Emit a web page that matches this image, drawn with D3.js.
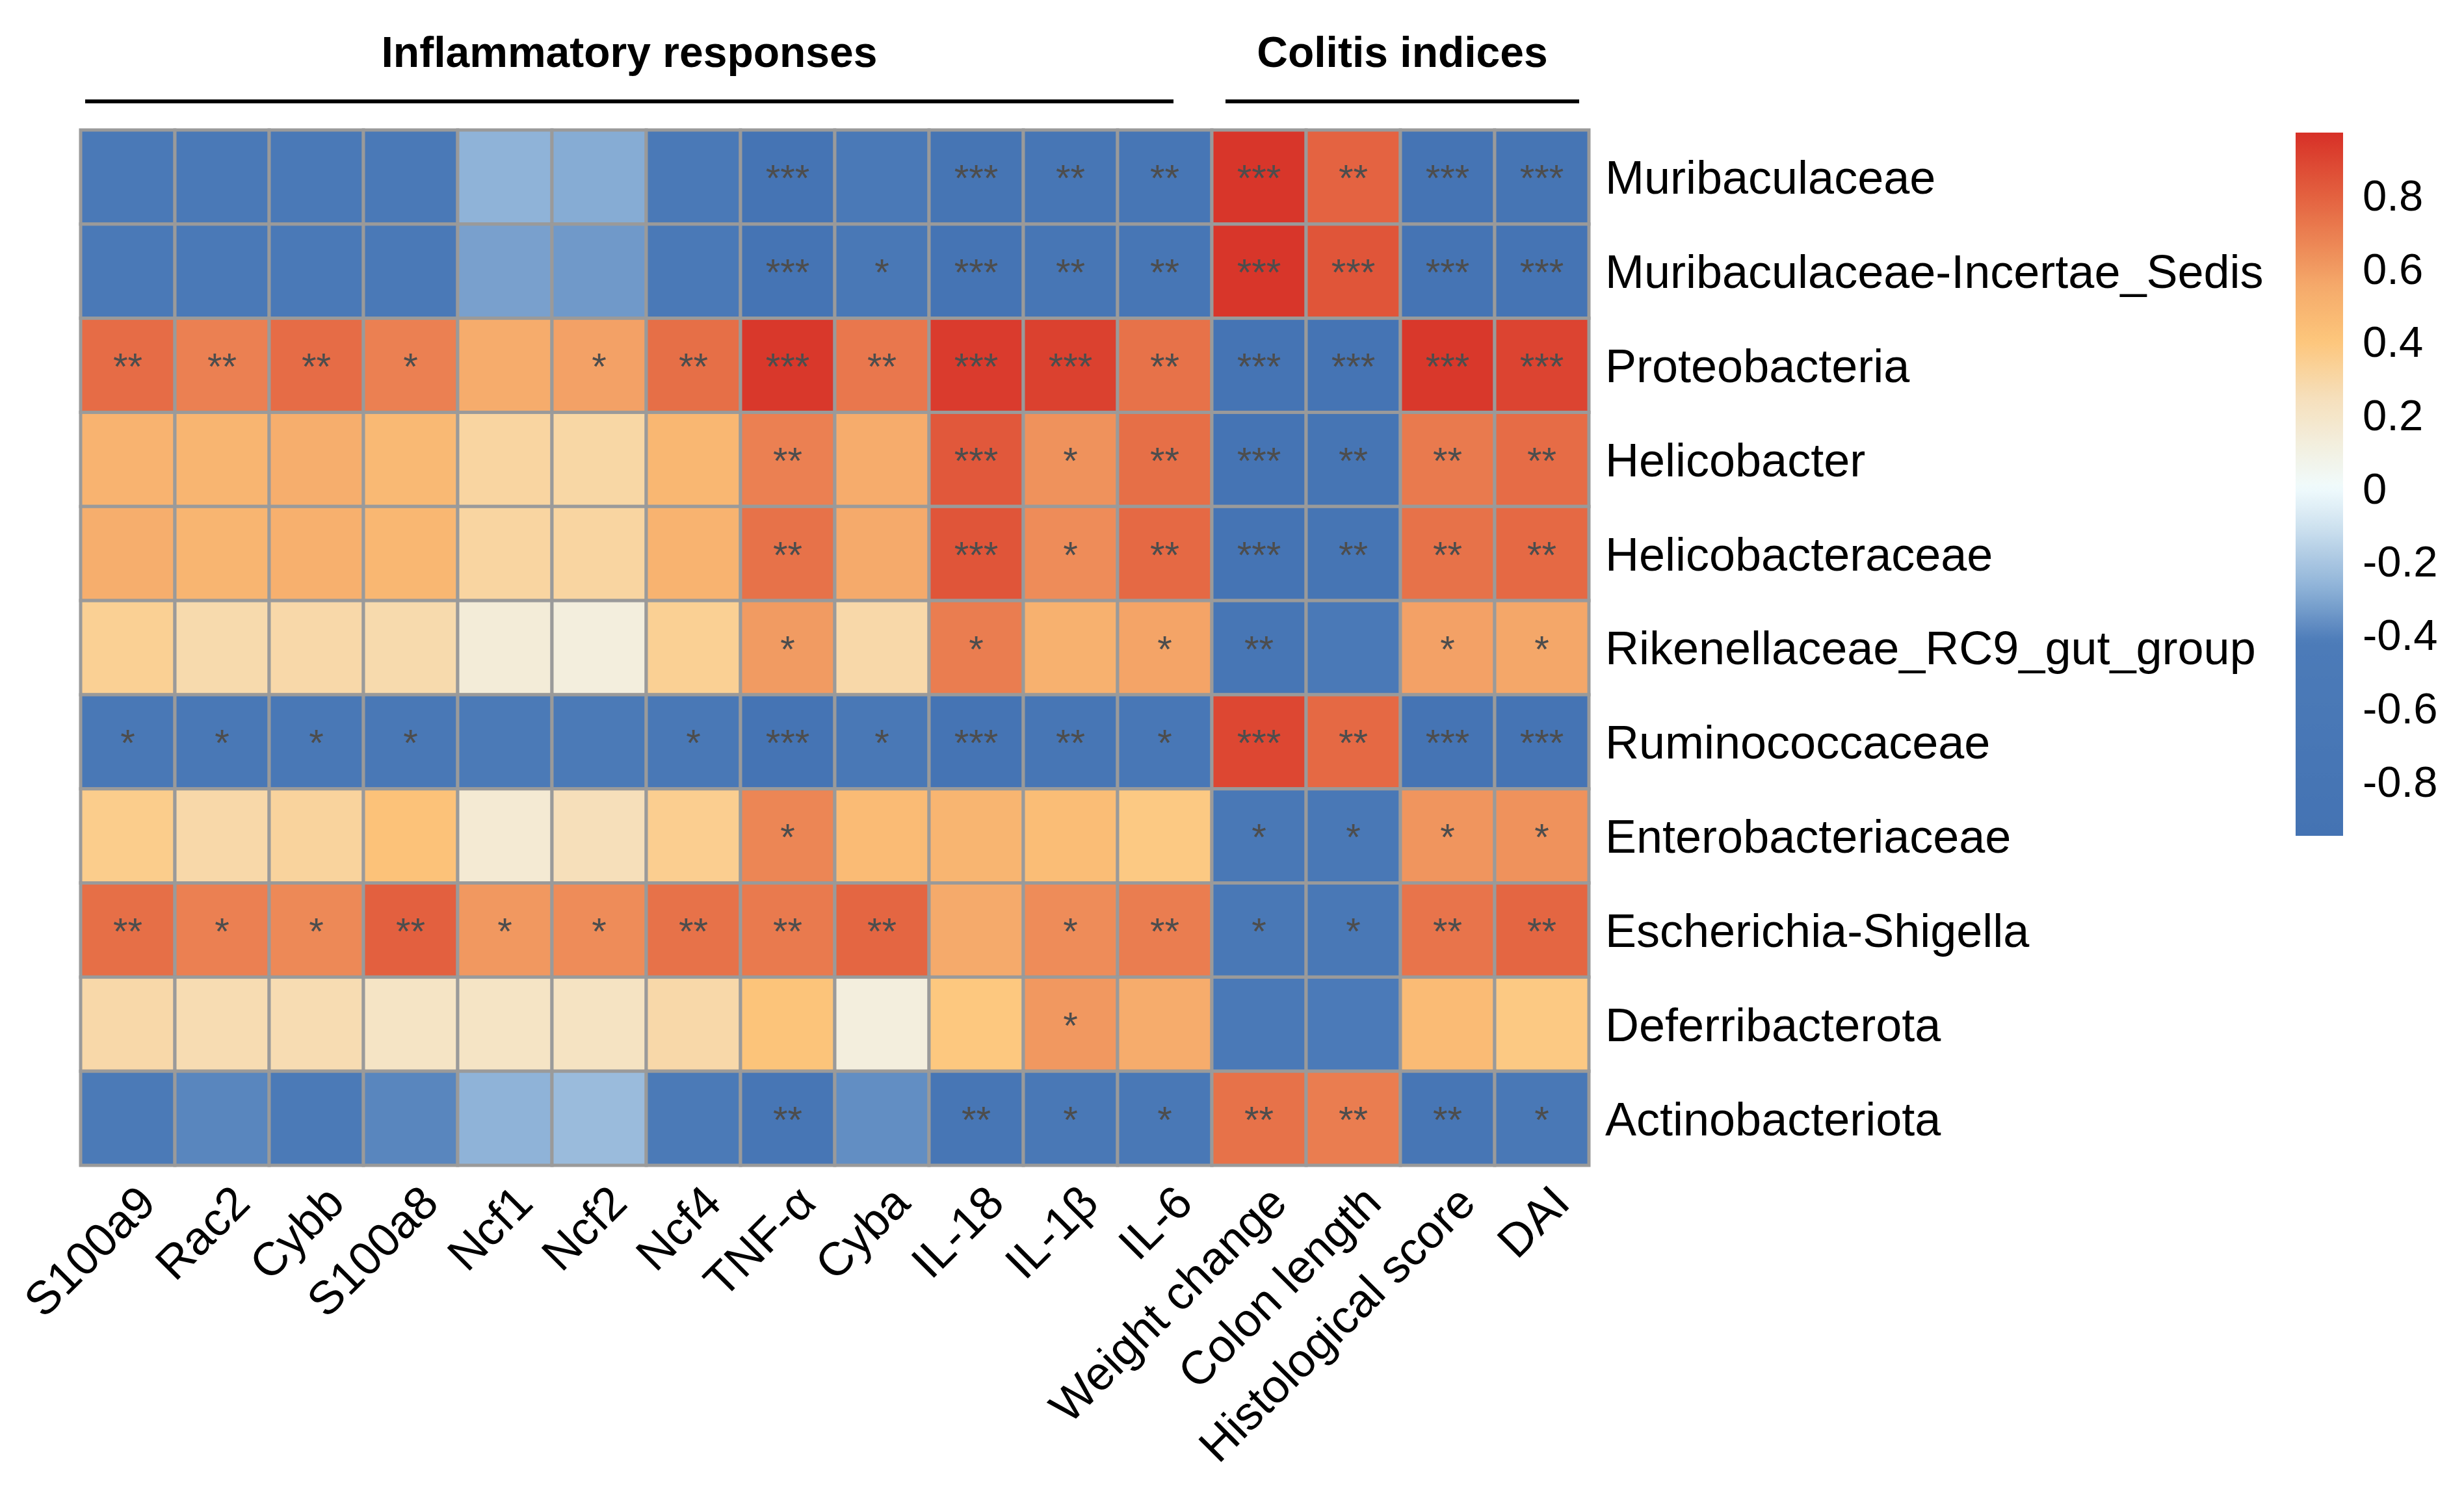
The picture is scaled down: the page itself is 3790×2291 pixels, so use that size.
<!DOCTYPE html>
<html>
<head>
<meta charset="utf-8">
<script src="https://cdn.jsdelivr.net/npm/d3@7"></script>
<style>
  html, body { margin: 0; padding: 0; background: #ffffff; }
  svg { display: block; }
  text { font-family: "Liberation Sans", Arial, sans-serif; }
</style>
</head>
<body>
<script>
// ---------------- DATA ----------------
const columns = ["S100a9", "Rac2", "Cybb", "S100a8", "Ncf1", "Ncf2", "Ncf4", "TNF-α", "Cyba",
  "IL-18", "IL-1β", "IL-6", "Weight change", "Colon length", "Histological score", "DAI"];

const rowNames = ["Muribaculaceae", "Muribaculaceae-Incertae_Sedis", "Proteobacteria", "Helicobacter",
  "Helicobacteraceae", "Rikenellaceae_RC9_gut_group", "Ruminococcaceae", "Enterobacteriaceae",
  "Escherichia-Shigella", "Deferribacterota", "Actinobacteriota"];

const groups = [
  { name: "Inflammatory responses", first: "S100a9", last: "IL-6" },
  { name: "Colitis indices", first: "Weight change", last: "DAI" }
];

// correlation coefficients, one array per row (column order as above)
const rMuribaculaceae     = [-0.52, -0.52, -0.53, -0.52, -0.27, -0.29, -0.52, -0.86, -0.55, -0.84, -0.76, -0.74, 0.95, 0.79, -0.86, -0.85];
const rMuribaculaceaeIS   = [-0.53, -0.53, -0.54, -0.53, -0.32, -0.34, -0.52, -0.87, -0.60, -0.86, -0.77, -0.75, 0.95, 0.84, -0.87, -0.86];
const rProteobacteria     = [0.76, 0.69, 0.76, 0.69, 0.54, 0.58, 0.75, 0.94, 0.72, 0.93, 0.91, 0.74, -0.88, -0.87, 0.94, 0.90];
const rHelicobacter       = [0.50, 0.49, 0.53, 0.47, 0.31, 0.30, 0.48, 0.69, 0.54, 0.83, 0.63, 0.75, -0.86, -0.80, 0.71, 0.76];
const rHelicobacteraceae  = [0.53, 0.49, 0.52, 0.48, 0.31, 0.31, 0.50, 0.74, 0.55, 0.84, 0.65, 0.77, -0.86, -0.80, 0.74, 0.77];
const rRikenellaceae      = [0.34, 0.28, 0.29, 0.28, 0.14, 0.12, 0.34, 0.60, 0.29, 0.70, 0.51, 0.57, -0.74, -0.55, 0.58, 0.56];
const rRuminococcaceae    = [-0.62, -0.63, -0.62, -0.60, -0.50, -0.50, -0.60, -0.88, -0.62, -0.86, -0.76, -0.66, 0.89, 0.77, -0.87, -0.87];
const rEnterobacteriaceae = [0.36, 0.29, 0.32, 0.42, 0.16, 0.25, 0.35, 0.67, 0.46, 0.49, 0.45, 0.38, -0.65, -0.63, 0.62, 0.63];
const rEscherichia        = [0.75, 0.69, 0.66, 0.80, 0.61, 0.65, 0.74, 0.71, 0.78, 0.55, 0.65, 0.70, -0.64, -0.63, 0.73, 0.78];
const rDeferribacterota   = [0.29, 0.27, 0.27, 0.21, 0.21, 0.22, 0.29, 0.41, 0.12, 0.39, 0.61, 0.54, -0.56, -0.47, 0.46, 0.38];
const rActinobacteriota   = [-0.50, -0.39, -0.50, -0.39, -0.27, -0.24, -0.50, -0.76, -0.37, -0.75, -0.64, -0.63, 0.74, 0.70, -0.75, -0.63];

// significance marks, one array per row
const sMuribaculaceae     = ["", "", "", "", "", "", "", "***", "", "***", "**", "**", "***", "**", "***", "***"];
const sMuribaculaceaeIS   = ["", "", "", "", "", "", "", "***", "*", "***", "**", "**", "***", "***", "***", "***"];
const sProteobacteria     = ["**", "**", "**", "*", "", "*", "**", "***", "**", "***", "***", "**", "***", "***", "***", "***"];
const sHelicobacter       = ["", "", "", "", "", "", "", "**", "", "***", "*", "**", "***", "**", "**", "**"];
const sHelicobacteraceae  = ["", "", "", "", "", "", "", "**", "", "***", "*", "**", "***", "**", "**", "**"];
const sRikenellaceae      = ["", "", "", "", "", "", "", "*", "", "*", "", "*", "**", "", "*", "*"];
const sRuminococcaceae    = ["*", "*", "*", "*", "", "", "*", "***", "*", "***", "**", "*", "***", "**", "***", "***"];
const sEnterobacteriaceae = ["", "", "", "", "", "", "", "*", "", "", "", "", "*", "*", "*", "*"];
const sEscherichia        = ["**", "*", "*", "**", "*", "*", "**", "**", "**", "", "*", "**", "*", "*", "**", "**"];
const sDeferribacterota   = ["", "", "", "", "", "", "", "", "", "", "*", "", "", "", "", ""];
const sActinobacteriota   = ["", "", "", "", "", "", "", "**", "", "**", "*", "*", "**", "**", "**", "*"];

const legendTicks  = [0.8, 0.6, 0.4, 0.2, 0, -0.2, -0.4, -0.6, -0.8];
const legendLabels = ["0.8", "0.6", "0.4", "0.2", "0", "-0.2", "-0.4", "-0.6", "-0.8"];
const legendDomain = [-0.95, 0.97];

// colour ramp (value stops -> colours)
const colorStops  = [-0.95, -0.42, -0.27, -0.10, 0, 0.14, 0.25, 0.40, 0.55, 0.67, 0.80, 0.97];
const colorValues = ["#4473b3", "#4c7bb8", "#8fb3d8", "#d0e3f0", "#f0fbfd", "#f3ecd8", "#f6dfba",
  "#fdc67b", "#f5aa6b", "#ec8655", "#e3603f", "#d73027"];

const valueRows = [rMuribaculaceae, rMuribaculaceaeIS, rProteobacteria, rHelicobacter, rHelicobacteraceae,
  rRikenellaceae, rRuminococcaceae, rEnterobacteriaceae, rEscherichia, rDeferribacterota, rActinobacteriota];
const starRows = [sMuribaculaceae, sMuribaculaceaeIS, sProteobacteria, sHelicobacter, sHelicobacteraceae,
  sRikenellaceae, sRuminococcaceae, sEnterobacteriaceae, sEscherichia, sDeferribacterota, sActinobacteriota];

// ---------------- CHART ----------------
const W = 3790, H = 2291;
const svg = d3.select("body").append("svg").attr("width", W).attr("height", H);
svg.append("rect").attr("width", W).attr("height", H).attr("fill", "#ffffff");

const x = d3.scaleBand().domain(columns).range([124, 2444]).padding(0);
const y = d3.scaleBand().domain(rowNames).range([200, 1793]).padding(0);
const color = d3.scaleLinear().domain(colorStops).range(colorValues).interpolate(d3.interpolateRgb).clamp(true);

const cells = [];
rowNames.forEach((rn, i) => columns.forEach((cn, j) => {
  cells.push({ row: rn, col: cn, v: valueRows[i][j], s: starRows[i][j] });
}));

const gCells = svg.append("g");
gCells.selectAll("rect").data(cells).join("rect")
  .attr("x", d => x(d.col)).attr("y", d => y(d.row))
  .attr("width", x.bandwidth()).attr("height", y.bandwidth())
  .attr("fill", d => color(d.v))
  .attr("stroke", "#9a9a9a").attr("stroke-width", 5);

const starSize = 58;
svg.append("g").selectAll("text").data(cells.filter(d => d.s)).join("text")
  .attr("x", d => x(d.col) + x.bandwidth() / 2)
  .attr("y", d => y(d.row) + y.bandwidth() / 2 + starSize * 0.38)
  .attr("text-anchor", "middle")
  .attr("font-size", starSize)
  .attr("fill", "#4d4d4d")
  .text(d => d.s);

// row labels
svg.append("g").selectAll("text").data(rowNames).join("text")
  .attr("x", x.range()[1] + 25)
  .attr("y", d => y(d) + y.bandwidth() / 2)
  .attr("dy", "0.36em")
  .attr("font-size", 72)
  .attr("fill", "#000")
  .text(d => d);

// column labels (rotated 45°)
const colLabelY = y.range()[1] + 25;
svg.append("g").selectAll("text").data(columns).join("text")
  .attr("transform", d => `translate(${x(d) + x.bandwidth() / 2 + 10},${colLabelY}) rotate(-45)`)
  .attr("text-anchor", "end")
  .attr("dy", "0.72em")
  .attr("font-size", 72)
  .attr("fill", "#000")
  .text(d => d);

// group headers
const gHead = svg.append("g");
groups.forEach((g, i) => {
  const x0 = x(g.first), x1 = x(g.last) + x.bandwidth();
  const lx0 = i === 0 ? x0 + 7 : x0 + 21;
  const lx1 = i === 0 ? x1 - 59 : x1 - 15;
  gHead.append("line")
    .attr("x1", lx0).attr("x2", lx1).attr("y1", 156).attr("y2", 156)
    .attr("stroke", "#000").attr("stroke-width", 6);
  gHead.append("text")
    .attr("x", (lx0 + lx1) / 2).attr("y", 103)
    .attr("text-anchor", "middle")
    .attr("font-size", 66).attr("font-weight", "bold")
    .attr("fill", "#000")
    .text(g.name);
});

// colour legend
const ly = d3.scaleLinear().domain(legendDomain).range([1286, 204]);
const defs = svg.append("defs");
const grad = defs.append("linearGradient").attr("id", "cbar")
  .attr("x1", 0).attr("y1", 1).attr("x2", 0).attr("y2", 0);
d3.range(0, 101).forEach(k => {
  const t = k / 100;
  const v = legendDomain[0] + t * (legendDomain[1] - legendDomain[0]);
  grad.append("stop").attr("offset", t).attr("stop-color", color(v));
});
svg.append("rect")
  .attr("x", 3531).attr("width", 73)
  .attr("y", ly(legendDomain[1])).attr("height", ly(legendDomain[0]) - ly(legendDomain[1]))
  .attr("fill", "url(#cbar)");
svg.append("g").selectAll("text").data(legendTicks).join("text")
  .attr("x", 3634)
  .attr("y", d => ly(d))
  .attr("dy", "0.36em")
  .attr("font-size", 67)
  .attr("fill", "#000")
  .text((d, i) => legendLabels[i]);
</script>
</body>
</html>
